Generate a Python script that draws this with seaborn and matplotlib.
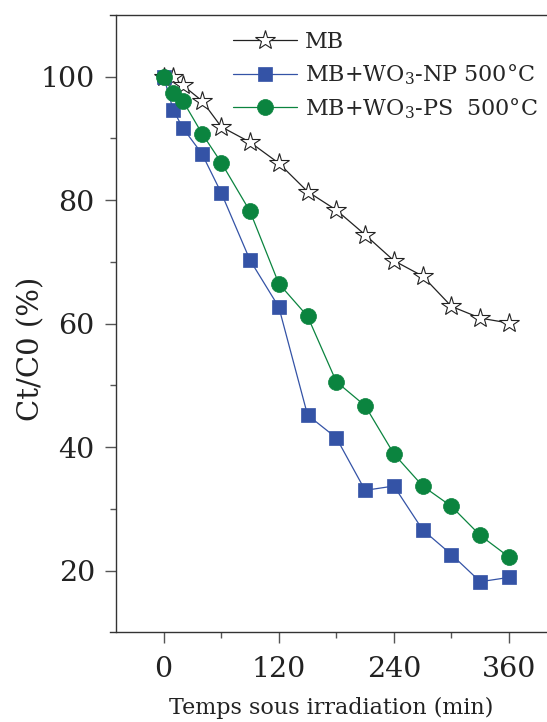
import numpy as np
import pandas as pd
import matplotlib
matplotlib.use("Agg")
import matplotlib.pyplot as plt
import seaborn as sns

# -------------------------
# Data
# -------------------------
time_min = [0, 10, 20, 40, 60, 90, 120, 150, 180, 210, 240, 270, 300, 330, 360]
mb = [100, 99.9, 98.6, 96.1, 91.9, 89.4, 86.0, 81.4, 78.4, 74.4, 70.2, 67.7, 62.8, 60.9, 60.1]
mb_np = [100, 94.6, 91.7, 87.5, 81.2, 70.3, 62.7, 45.2, 41.5, 33.0, 33.7, 26.6, 22.6, 18.2, 18.9]
mb_ps = [100, 97.4, 96.1, 90.8, 86.1, 78.2, 66.5, 61.2, 50.6, 46.7, 38.9, 33.7, 30.4, 25.7, 22.2]

labels = ["MB", "MB+WO$_3$-NP 500°C", "MB+WO$_3$-PS  500°C"]
x_ticks = [0, 120, 240, 360]
y_ticks = [20, 40, 60, 80, 100]

# -------------------------
# Style
# -------------------------
sns.set_style("ticks")
plt.rcParams["font.family"] = ["DejaVu Serif"]
plt.rcParams["mathtext.fontset"] = "dejavuserif"

fig = plt.figure(figsize=(5.47, 7.22), dpi=100)
ax = fig.add_axes([0.2115, 0.1242, 0.8068, 0.855])

blue = "#3453A6"
green = "#0B843F"

sns.lineplot(x=time_min, y=mb, ax=ax, color="#222222", lw=0.9,
             marker="*", markersize=15, markerfacecolor="white",
             markeredgecolor="#222222", markeredgewidth=0.8, label=labels[0])
sns.lineplot(x=time_min, y=mb_np, ax=ax, color=blue, lw=0.9,
             marker="s", markersize=9.5, markerfacecolor=blue,
             markeredgecolor=blue, markeredgewidth=0.5, label=labels[1])
sns.lineplot(x=time_min, y=mb_ps, ax=ax, color=green, lw=0.9,
             marker="o", markersize=11.5, markerfacecolor=green,
             markeredgecolor=green, markeredgewidth=0.5, label=labels[2])

ax.set_xlim(-50, 410)
ax.set_ylim(10, 110)
ax.set_xticks(x_ticks)
ax.set_yticks(y_ticks)
ax.set_xticks([60, 180, 300], minor=True)
ax.set_yticks([30, 50, 70, 90], minor=True)

for side in ["left", "bottom", "top"]:
    ax.spines[side].set_color("#333333")
    ax.spines[side].set_linewidth(1.0)
ax.spines["right"].set_visible(False)
# the frame lines poke out a little to the left of the y axis
ax.spines["bottom"].set_bounds(-56, 410)
ax.spines["top"].set_bounds(-56, 410)

ax.tick_params(axis="both", which="major", direction="out", length=8, width=1,
               color="#555555", labelsize=20.5, labelcolor="#222222")
ax.tick_params(axis="x", which="major", pad=9)
ax.tick_params(axis="y", which="major", pad=7)
ax.tick_params(axis="both", which="minor", direction="out", length=4, width=1,
               color="#555555")

ax.set_xlabel("Temps sous irradiation (min)", fontsize=16, color="#222222")
ax.set_ylabel("Ct/C0 (%)", fontsize=21, color="#222222")
ax.xaxis.set_label_coords(0.488, -0.105)
ax.yaxis.set_label_coords(-0.16, 0.459)

ax.legend(loc="upper left", bbox_to_anchor=(233 / 547, 1 - 31 / 722),
          bbox_transform=fig.transFigure, frameon=False, fontsize=16,
          handlelength=2.9, handletextpad=0.35, labelspacing=0.42,
          borderpad=0, borderaxespad=0)

fig.savefig("out.png", dpi=100)
